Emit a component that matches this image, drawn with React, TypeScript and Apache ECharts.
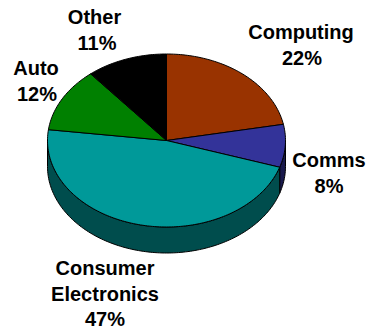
import React, { useEffect, useRef } from "react";
import * as echarts from "echarts";

// Market share by segment, clockwise from twelve o'clock.
const segments = ["Computing", "Comms", "Consumer\nElectronics", "Auto", "Other"];
const shares = [22, 8, 47, 12, 11];

const topColors = ["#993300", "#333399", "#009999", "#008000", "#000000"];
const wallColors = ["#4d1a00", "#1a1a4d", "#004d4d", "#004000", "#000000"];
const labelCentres = [
  [301, 32],
  [329, 160],
  [105, 268],
  [36, 68],
  [94.5, 17],
];
// Horizontal nudge of the percentage line relative to the name above it.
const percentNudges = [1, 0, 0, 1, 2.5];

const CX = 166.5;
const CY = 140.5;
const RX = 119;
const RY = 86.5;
const DEPTH = 26;
const LINE_HEIGHT = 25.5;

const total = shares.reduce((a, b) => a + b, 0);

// Sweep of a slice in radians, measured clockwise from the top of the pie.
function sweep(index: number): [number, number] {
  const before = shares.slice(0, index).reduce((a, b) => a + b, 0);
  return [
    (before / total) * Math.PI * 2,
    ((before + shares[index]) / total) * Math.PI * 2,
  ];
}

function rimPoint(angle: number, drop = 0): number[] {
  return [CX + RX * Math.sin(angle), CY - RY * Math.cos(angle) + drop];
}

function arcPoints(from: number, to: number, drop = 0): number[][] {
  const steps = Math.max(2, Math.ceil((to - from) / 0.02));
  const pts: number[][] = [];
  for (let i = 0; i <= steps; i++) {
    pts.push(rimPoint(from + ((to - from) * i) / steps, drop));
  }
  return pts;
}

const edgeStyle = { stroke: "#000000", lineWidth: 1, lineJoin: "round" as const };

// Only the part of a slice on the front half of the pie shows its side wall.
function renderWall(params: any) {
  const i = params.dataIndex;
  const [a0, a1] = sweep(i);
  const from = Math.max(a0, Math.PI / 2);
  const to = Math.min(a1, (Math.PI * 3) / 2);
  if (to <= from) return { type: "group", children: [] };
  return {
    type: "polygon",
    shape: {
      points: [...arcPoints(from, to, 0), ...arcPoints(from, to, DEPTH).reverse()],
    },
    style: { ...edgeStyle, fill: wallColors[i] },
  };
}

function renderTop(params: any) {
  const i = params.dataIndex;
  const [a0, a1] = sweep(i);
  const [lx, ly] = labelCentres[i];
  const names = segments[i].split("\n");
  const lines = [...names, `${shares[i]}%`];
  return {
    type: "group",
    children: [
      {
        type: "polygon",
        shape: { points: [[CX, CY], ...arcPoints(a0, a1)] },
        style: { ...edgeStyle, fill: topColors[i] },
      },
      ...lines.map((line, k) => ({
        type: "text",
        x: lx + (k === names.length ? percentNudges[i] : 0),
        y: ly + k * LINE_HEIGHT,
        style: {
          text: line,
          fill: "#000000",
          font: 'bold 20px "Liberation Sans", Arial, sans-serif',
          align: "center",
          verticalAlign: "middle",
        },
      })),
    ],
  };
}

export default function App() {
  const ref = useRef<HTMLDivElement>(null);

  useEffect(() => {
    document.body.style.margin = "0";
    const chart = echarts.init(ref.current!, undefined, { renderer: "svg" });
    chart.setOption({
      animation: false,
      backgroundColor: "#ffffff",
      series: [
        { type: "custom", coordinateSystem: "none", data: shares, renderItem: renderWall, silent: true, z: 1 },
        { type: "custom", coordinateSystem: "none", data: shares, renderItem: renderTop, silent: true, z: 2 },
      ],
    });
    return () => chart.dispose();
  }, []);

  return <div ref={ref} style={{ width: 367, height: 333 }} />;
}
